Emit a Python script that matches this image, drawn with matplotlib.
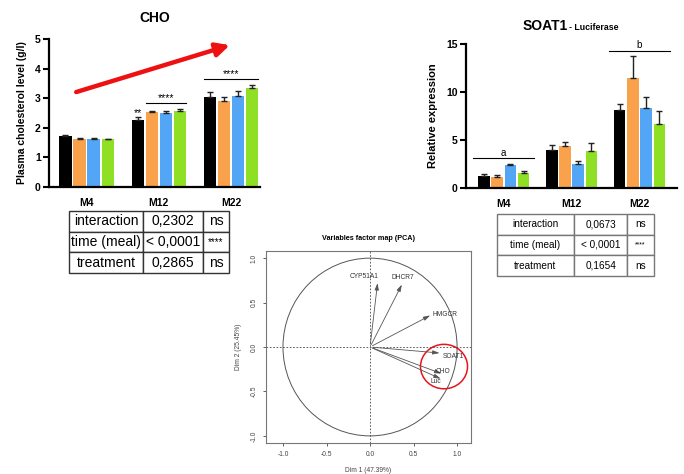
import matplotlib
matplotlib.use("Agg")
import matplotlib.pyplot as plt
from matplotlib.patches import Circle, Ellipse
import numpy as np

plt.rcParams["font.family"] = ["Liberation Sans", "DejaVu Sans"]
plt.rcParams["axes.unicode_minus"] = False

# ---- data ----------------------------------------------------------------
groups = ["M4", "M12", "M22"]
colors = ["#000000", "#F9A24B", "#52A6F5", "#8FE024"]

cho_mean = [[1.72, 1.62, 1.62, 1.61],
            [2.28, 2.54, 2.50, 2.58],
            [3.05, 2.92, 3.07, 3.35]]
cho_err = [[0.03, 0.02, 0.03, 0.02],
           [0.08, 0.03, 0.06, 0.05],
           [0.17, 0.12, 0.17, 0.10]]

soat_mean = [[1.3, 1.15, 2.35, 1.6],
             [4.0, 4.4, 2.5, 3.9],
             [8.1, 11.5, 8.3, 6.7]]
soat_err = [[0.15, 0.2, 0.2, 0.15],
            [0.45, 0.35, 0.3, 0.8],
            [0.65, 2.2, 1.2, 1.3]]

cho_table = [["interaction", "0,2302", "ns"],
             ["time (meal)", "< 0,0001", "****"],
             ["treatment", "0,2865", "ns"]]
soat_table = [["interaction", "0,0673", "ns"],
              ["time (meal)", "< 0,0001", "****"],
              ["treatment", "0,1654", "ns"]]

pca_vars = ["CYP51A1", "DHCR7", "HMGCR", "SOAT1", "CHO", "Luc"]
pca_x = [0.09, 0.38, 0.72, 0.83, 0.85, 0.84]
pca_y = [0.75, 0.73, 0.37, -0.07, -0.31, -0.37]
pca_lab_x = [-0.07, 0.38, 0.86, 0.96, 0.84, 0.75]
pca_lab_y = [0.79, 0.78, 0.37, -0.11, -0.28, -0.39]

BW = 0.17


def bar_panel(ax, means, errs, ymax, yticks):
    x = np.arange(len(groups))
    for i in range(4):
        vals = [m[i] for m in means]
        ee = [e[i] for e in errs]
        pos = x + (i - 1.5) * (BW + 0.025)
        ax.bar(pos, vals, BW, color=colors[i], zorder=2)
        ax.errorbar(pos, vals, yerr=[np.zeros(3), ee], fmt="none",
                    ecolor="#222222", elinewidth=1, capsize=2.2, capthick=1,
                    zorder=3)
    ax.set_ylim(0, ymax)
    ax.set_yticks(yticks)
    ax.set_xticks(x)
    ax.set_xticklabels(groups, fontweight="bold", fontsize=7.5)
    for s in ["top", "right"]:
        ax.spines[s].set_visible(False)
    for s in ["left", "bottom"]:
        ax.spines[s].set_linewidth(1.6)
    ax.tick_params(axis="x", length=0, pad=8)
    ax.tick_params(axis="y", length=4, width=1.5, labelsize=7.5, pad=2)
    for t in ax.get_yticklabels():
        t.set_fontweight("bold")


fig = plt.figure(figsize=(6.84, 4.74), dpi=100)

# ---- CHO -----------------------------------------------------------------
ax1 = fig.add_axes([0.0716, 0.6055, 0.3085, 0.3122])
bar_panel(ax1, cho_mean, cho_err, 5, [0, 1, 2, 3, 4, 5])
ax1.set_xlim(-0.52, 2.4)
ax1.set_title("CHO", fontweight="bold", fontsize=10, pad=12)
ax1.set_ylabel("Plasma cholesterol level (g/l)", fontweight="bold",
               fontsize=7.5, labelpad=6)
ax1.text(1 - 1.5 * (BW + 0.025), 2.4, "**", ha="center", fontsize=7.5)
ax1.plot([1 - 0.5 * (BW + 0.025) - 0.08, 1 + 1.5 * (BW + 0.025) + 0.08],
         [2.85, 2.85], color="black", lw=0.8)
ax1.text(1 + 0.5 * (BW + 0.025), 2.9, "****", ha="center", fontsize=7.5)
ax1.plot([2 - 1.5 * (BW + 0.025) - 0.08, 2 + 1.5 * (BW + 0.025) + 0.08],
         [3.65, 3.65], color="black", lw=0.8)
ax1.text(2, 3.72, "****", ha="center", fontsize=7.5)
ax1.annotate("", xy=(2.02, 4.82), xytext=(-0.18, 3.18),
             arrowprops=dict(arrowstyle="-|>,head_length=0.8,head_width=0.4",
                             color="#EE1111", lw=3.2),
             annotation_clip=False)

# ---- SOAT1 ---------------------------------------------------------------
ax2 = fig.add_axes([0.681, 0.6034, 0.3085, 0.3038])
bar_panel(ax2, soat_mean, soat_err, 15, [0, 5, 10, 15])
ax2.set_xlim(-0.56, 2.55)
fig.text(568 / 684, 1 - 30 / 474, "SOAT1", ha="right", va="baseline",
         fontweight="bold", fontsize=10)
fig.text(569 / 684, 1 - 30 / 474, "- Luciferase", ha="left", va="baseline",
         fontweight="bold", fontsize=6.3)
ax2.set_ylabel("Relative expression", fontweight="bold", fontsize=8,
               labelpad=6)
ax2.plot([-0.45, 0.45], [3.1, 3.1], color="black", lw=0.8)
ax2.text(0, 3.35, "a", ha="center", fontsize=7)
ax2.plot([1.55, 2.45], [14.3, 14.3], color="black", lw=0.8)
ax2.text(2, 14.55, "b", ha="center", fontsize=7)


# ---- tables --------------------------------------------------------------
def stat_table(rect, rows, widths, fs, edge):
    ax = fig.add_axes(rect)
    ax.axis("off")
    tb = ax.table(cellText=rows, colWidths=widths, cellLoc="center",
                  bbox=[0, 0, 1, 1])
    tb.auto_set_font_size(False)
    tb.set_fontsize(fs)
    for (r, c), cell in tb.get_celld().items():
        cell.set_edgecolor(edge)
        cell.set_linewidth(1.0)
        if c == 2 and r == 1:
            cell.get_text().set_fontsize(fs * 0.7)
    return tb


stat_table([0.1009, 0.424, 0.234, 0.131], cho_table,
           [0.4625, 0.375, 0.1625], 10, "#333333")
stat_table([0.7266, 0.4177, 0.2295, 0.131], soat_table,
           [0.49, 0.34, 0.17], 7.2, "#777777")

# ---- PCA -----------------------------------------------------------------
ax3 = fig.add_axes([0.3889, 0.0654, 0.2997, 0.405])
ax3.set_xlim(-1.195, 1.16)
ax3.set_ylim(-1.08, 1.08)
ax3.add_patch(Circle((0, 0), 1, fill=False, color="#555555", lw=0.7))
ax3.axhline(0, color="#444444", lw=0.6, ls=(0, (2, 2)))
ax3.axvline(0, color="#444444", lw=0.6, ls=(0, (2, 2)))
for name, vx, vy, lx, ly in zip(pca_vars, pca_x, pca_y, pca_lab_x, pca_lab_y):
    ax3.annotate("", xy=(vx, vy), xytext=(0, 0),
                 arrowprops=dict(arrowstyle="-|>,head_length=0.4,head_width=0.12",
                                 color="#555555", lw=0.6))
    ax3.text(lx, ly, name, ha="center", va="center", fontsize=4.8,
             color="#333333")
ax3.add_patch(Ellipse((0.85, -0.22), 0.54, 0.5, fill=False, color="#E8141B",
                      lw=1.1))
ax3.set_xticks([-1.0, -0.5, 0.0, 0.5, 1.0])
ax3.set_yticks([-1.0, -0.5, 0.0, 0.5, 1.0])
ax3.tick_params(labelsize=4.8, length=2.5, width=0.6, colors="#444444")
for t in ax3.get_yticklabels():
    t.set_rotation(90)
    t.set_va("center")
for s in ax3.spines.values():
    s.set_linewidth(0.8)
    s.set_color("#777777")
ax3.set_xlabel("Dim 1 (47.39%)", fontsize=4.8, color="#444444", labelpad=6)
ax3.set_ylabel("Dim 2 (25.45%)", fontsize=4.8, color="#444444", labelpad=6)
ax3.set_title("Variables factor map (PCA)", fontsize=5.2, fontweight="bold",
              pad=8)

fig.savefig("out.png", dpi=100, facecolor="white")
